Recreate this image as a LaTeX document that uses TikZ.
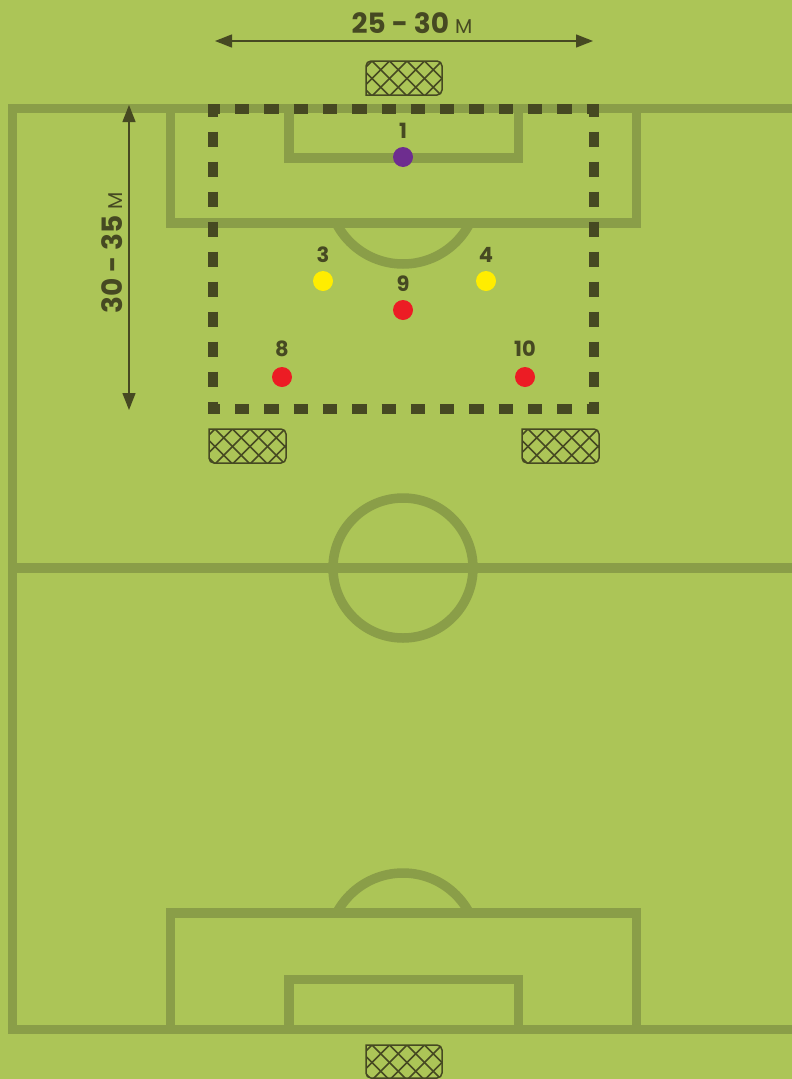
\documentclass[tikz,border=0pt]{standalone}
\usepackage{fontspec}
\newfontfamily\pitchfont{Poppins}
\usetikzlibrary{arrows.meta,positioning}
\definecolor{grass}{HTML}{ACC557}
\definecolor{chalk}{HTML}{8A9E48}
\definecolor{ink}{HTML}{464922}
\definecolor{redp}{HTML}{EC1C24}
\definecolor{yellowp}{HTML}{FFED00}
\definecolor{purplep}{HTML}{6E2D8F}

\begin{document}
\begin{tikzpicture}[x=1pt,y=-1pt,
  line/.style={draw=chalk, line width=9.5pt},
  zoneh/.style={draw=ink, line width=10pt, dash pattern=on 14.3pt off 15pt, dash phase=2.3pt},
  zonev/.style={draw=ink, line width=10pt, dash pattern=on 15pt off 15pt, dash phase=2.5pt},
  net/.style={draw=ink, line width=1.5pt, path picture={
    \foreach \k in {-4,...,8}{
      \draw[ink, line width=1.6pt] ([xshift=\k*17.5pt+6pt]path picture bounding box.north west) -- ++(60,60);
      \draw[ink, line width=1.6pt] ([xshift=\k*17.5pt+6pt]path picture bounding box.north west) -- ++(-60,60);
    }}},
  dim/.style={draw=ink, line width=1.4pt, {Triangle[length=17pt,width=13pt]}-{Triangle[length=17pt,width=13pt]}},
  dimlabel/.style={font={\pitchfont\bfseries\fontsize{28}{28}\selectfont}, text=ink, inner sep=0pt},
  player/.style={circle, fill=#1, minimum size=20pt, inner sep=0pt},
  num/.style={font={\pitchfont\bfseries\fontsize{21}{21}\selectfont}, text=ink, inner sep=0pt}
]
\fill[grass] (0,0) rectangle (792,1079);
\useasboundingbox (0,0) rectangle (792,1079);

% Pitch markings
\draw[line] (12.5,108.5) rectangle (797,1029.5);
\draw[line] (12.5,568) -- (797,568);
\draw[line] (403,568) circle (70);

% Top penalty area
\draw[line] (170.5,108.5) -- (170.5,223) -- (636.5,223) -- (636.5,108.5);
\draw[line] (289,108.5) -- (289,158) -- (518.5,158) -- (518.5,108.5);
\begin{scope}
  \clip (0,223) rectangle (792,300);
  \draw[line] (403,189) circle (75);
\end{scope}

% Bottom penalty area
\draw[line] (170.5,1029.5) -- (170.5,913) -- (636.5,913) -- (636.5,1029.5);
\draw[line] (289,1029.5) -- (289,979.5) -- (518.5,979.5) -- (518.5,1029.5);
\begin{scope}
  \clip (0,850) rectangle (792,913);
  \draw[line] (403,948) circle (75);
\end{scope}

% Playing zone
\draw[zoneh] (208,109) -- (599,109);
\draw[zoneh] (208,409) -- (599,409);
\draw[zonev] (213,104) -- (213,414);
\draw[zonev] (594,104) -- (594,414);

% Goals
\draw[net] (366,95) [rounded corners=5pt] -- (366,61) -- (442,61) -- (442,95) [sharp corners] -- cycle;
\draw[net] (209,429) [rounded corners=5pt] -- (209,463) -- (286,463) -- (286,429) [sharp corners] -- cycle;
\draw[net] (522,429) [rounded corners=5pt] -- (522,463) -- (599,463) -- (599,429) [sharp corners] -- cycle;
\draw[net] (366,1045) [rounded corners=5pt] -- (366,1078) -- (442,1078) -- (442,1045) [sharp corners] -- cycle;

% Dimensions
\coordinate (wl) at (215,41);
\coordinate (wr) at (593,41);
\draw[dim] (wl) -- (wr);
\node[dimlabel] (wlab) at (412,23) {25 - 30 {\mdseries\fontsize{20}{20}\selectfont M}};
\coordinate (ht) at (129,105);
\coordinate (hb) at (129,410);
\draw[dim] (ht) -- (hb);
\node[dimlabel, rotate=90] (hlab) at (112,253) {30 - 35 {\mdseries\fontsize{20}{20}\selectfont M}};

% Players
\node[player=purplep] (gk) at (403,157) {};
\node[num, above=8pt of gk] (ngk) {1};
\node[player=yellowp] (p3) at (323,281) {};
\node[num, above=8pt of p3] (n3) {3};
\node[player=yellowp] (p4) at (486,281) {};
\node[num, above=8pt of p4] (n4) {4};
\node[player=redp] (p9) at (403,310) {};
\node[num, above=8pt of p9] (n9) {9};
\node[player=redp] (p8) at (282,377) {};
\node[num, above=10pt of p8] (n8) {8};
\node[player=redp] (p10) at (525,377) {};
\node[num, above=10pt of p10] (n10) {10};
\end{tikzpicture}
\end{document}
